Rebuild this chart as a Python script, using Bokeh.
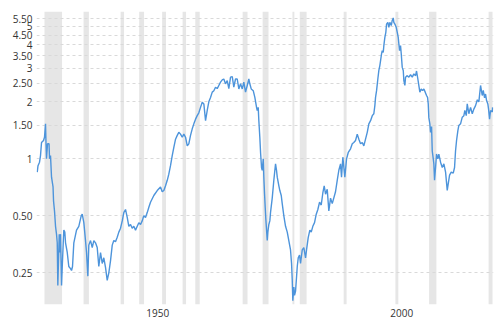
from bokeh.plotting import figure
from bokeh.models import Range1d, FixedTicker, BoxAnnotation
from bokeh.embed import file_html
from bokeh.resources import INLINE

# S&P 500 to gold ratio
years = [1927.81, 1927.97, 1928.28, 1928.48, 1928.69, 1929.10, 1929.30, 1929.51, 1929.61, 1929.71,
         1929.92, 1930.23, 1930.33, 1930.53, 1930.74, 1931.05, 1931.15, 1931.35, 1931.56, 1931.76,
         1931.91, 1932.03, 1932.32, 1932.44, 1932.58, 1932.79, 1932.93, 1933.14, 1933.26, 1933.46,
         1933.61, 1933.96, 1934.28, 1934.63, 1934.84, 1935.04, 1935.31, 1935.86, 1936.33, 1936.82,
         1937.03, 1937.36, 1937.70, 1937.91, 1938.18, 1938.38, 1938.73, 1939.08, 1939.41, 1939.75,
         1940.10, 1940.43, 1940.78, 1941.13, 1941.45, 1941.80, 1942.15, 1942.48, 1942.83, 1943.18,
         1943.50, 1943.85, 1944.20, 1944.53, 1944.88, 1945.23, 1945.55, 1945.90, 1946.25, 1946.58,
         1946.93, 1947.27, 1947.60, 1947.95, 1948.30, 1948.63, 1948.98, 1949.32, 1949.65, 1950.00,
         1950.35, 1950.68, 1951.02, 1951.70, 1952.40, 1953.07, 1953.42, 1953.75, 1954.10, 1954.45,
         1954.77, 1955.12, 1955.47, 1955.80, 1956.15, 1956.50, 1956.82, 1957.17, 1957.52, 1957.85,
         1958.20, 1958.55, 1958.87, 1959.22, 1959.57, 1959.90, 1960.25, 1960.59, 1960.92, 1961.27,
         1961.62, 1961.95, 1962.30, 1962.64, 1962.97, 1963.32, 1963.67, 1964.00, 1964.34, 1964.69,
         1965.02, 1965.37, 1965.72, 1966.04, 1966.39, 1966.74, 1967.07, 1967.42, 1967.77, 1968.09,
         1968.44, 1968.79, 1969.12, 1969.47, 1969.82, 1970.14, 1970.49, 1970.84, 1971.17, 1971.37,
         1971.66, 1972.07, 1972.40, 1972.75, 1972.89, 1973.09, 1973.22, 1973.42, 1973.57, 1973.77,
         1973.91, 1974.12, 1974.24, 1974.39, 1974.53, 1974.65, 1974.80, 1974.94, 1975.06, 1975.27,
         1975.47, 1975.61, 1975.96, 1976.29, 1976.50, 1976.64, 1976.84, 1976.99, 1977.32, 1977.52,
         1977.81, 1978.01, 1978.34, 1978.69, 1979.04, 1979.36, 1979.71, 1979.92, 1980.06, 1980.18,
         1980.39, 1980.53, 1980.74, 1980.94, 1981.09, 1981.29, 1981.56, 1981.76, 1982.11, 1982.44,
         1982.79, 1982.99, 1983.34, 1983.67, 1983.95, 1984.28, 1984.63, 1984.98, 1985.31, 1985.66,
         1986.00, 1986.33, 1986.61, 1986.89, 1987.23, 1987.56, 1987.91, 1988.26, 1988.93, 1989.28,
         1989.61, 1989.96, 1990.16, 1990.43, 1990.64, 1990.84, 1991.19, 1991.54, 1992.01, 1992.36,
         1992.68, 1993.03, 1993.38, 1993.71, 1994.06, 1994.41, 1994.73, 1995.08, 1995.43, 1995.76,
         1996.11, 1996.46, 1996.78, 1996.99, 1997.13, 1997.34, 1997.60, 1997.81, 1998.01, 1998.16,
         1998.36, 1998.50, 1998.71, 1998.83, 1999.04, 1999.24, 1999.39, 1999.65, 1999.86, 2000.06,
         2000.35, 2000.55, 2000.76, 2000.88, 2001.09, 2001.37, 2001.58, 2001.78, 2001.91, 2002.05,
         2002.25, 2002.40, 2002.60, 2002.81, 2002.93, 2003.14, 2003.28, 2003.63, 2003.96, 2004.30,
         2004.65, 2004.98, 2005.33, 2005.53, 2005.80, 2006.00, 2006.21, 2006.50, 2006.76, 2007.03,
         2007.31, 2007.58, 2007.79, 2007.93, 2008.05, 2008.26, 2008.40, 2008.61, 2008.75, 2008.96,
         2009.08, 2009.22, 2009.43, 2009.63, 2009.90, 2010.10, 2010.45, 2010.80, 2011.13, 2011.48,
         2011.82, 2012.03, 2012.30, 2012.64, 2013.05, 2013.32, 2013.52, 2013.73, 2014.00, 2014.20,
         2014.55, 2014.90, 2015.23, 2015.43, 2015.72, 2015.92, 2016.25, 2016.60, 2016.95, 2017.27,
         2017.62, 2017.99, 2018.30, 2018.65, 2018.99, 2019.20, 2019.47, 2019.67, 2019.88, 2020.14,
         2020.29, 2020.49, 2020.70, 2021.05, 2021.11]

ratio = [0.85, 0.92, 0.96, 1.04, 1.22, 1.25, 1.30, 1.53, 1.20, 1.00,
         1.20, 1.20, 1.00, 1.04, 0.80, 0.71, 0.60, 0.53, 0.44, 0.40,
         0.36, 0.214, 0.40, 0.32, 0.40, 0.214, 0.267, 0.36, 0.42, 0.41,
         0.36, 0.32, 0.27, 0.263, 0.257, 0.27, 0.36, 0.42, 0.44, 0.50,
         0.51, 0.46, 0.37, 0.32, 0.24, 0.35, 0.37, 0.34, 0.37, 0.36,
         0.34, 0.27, 0.32, 0.28, 0.30, 0.267, 0.228, 0.25, 0.29, 0.35,
         0.37, 0.365, 0.385, 0.41, 0.43, 0.47, 0.52, 0.54, 0.49, 0.44,
         0.45, 0.43, 0.44, 0.42, 0.44, 0.46, 0.45, 0.47, 0.50, 0.49,
         0.52, 0.555, 0.59, 0.64, 0.68, 0.71, 0.67, 0.68, 0.72, 0.77,
         0.83, 0.92, 1.04, 1.15, 1.27, 1.33, 1.38, 1.35, 1.30, 1.35,
         1.30, 1.17, 1.20, 1.33, 1.44, 1.53, 1.62, 1.69, 1.75, 1.87,
         1.99, 1.95, 1.59, 1.80, 2.00, 2.11, 2.25, 2.29, 2.39, 2.35,
         2.44, 2.54, 2.61, 2.64, 2.49, 2.59, 2.35, 2.70, 2.72, 2.39,
         2.64, 2.64, 2.34, 2.49, 2.34, 2.54, 2.25, 2.44, 2.64, 2.49,
         2.34, 2.29, 2.11, 1.87, 1.80, 1.87, 1.59, 1.30, 1.08, 0.90,
         0.87, 1.00, 0.80, 0.65, 0.55, 0.48, 0.42, 0.37, 0.41, 0.45,
         0.47, 0.52, 0.62, 0.77, 0.87, 0.94, 0.87, 0.80, 0.72, 0.68,
         0.64, 0.58, 0.50, 0.44, 0.41, 0.37, 0.33, 0.28, 0.23, 0.178,
         0.21, 0.19, 0.20, 0.237, 0.27, 0.30, 0.31, 0.28, 0.33, 0.34,
         0.30, 0.33, 0.385, 0.42, 0.41, 0.44, 0.46, 0.51, 0.54, 0.59,
         0.57, 0.66, 0.72, 0.65, 0.69, 0.53, 0.62, 0.58, 0.67, 0.77,
         0.87, 0.94, 0.80, 1.02, 0.90, 0.80, 1.00, 1.08, 1.13, 1.20,
         1.22, 1.25, 1.35, 1.27, 1.20, 1.22, 1.17, 1.27, 1.38, 1.53,
         1.59, 1.69, 1.73, 1.91, 2.11, 2.29, 2.64, 2.93, 3.11, 3.30,
         3.58, 3.73, 3.65, 3.96, 4.38, 4.66, 5.15, 5.26, 4.95, 5.26,
         5.06, 5.38, 5.55, 5.26, 5.15, 4.95, 4.66, 4.38, 4.04, 3.73,
         3.96, 3.58, 3.04, 2.93, 2.59, 2.44, 2.70, 2.75, 2.70, 2.78,
         2.70, 2.81, 2.75, 2.91, 2.64, 2.44, 2.25, 2.34, 2.29, 2.34,
         2.25, 2.16, 2.11, 1.95, 1.65, 1.53, 1.38, 1.48, 1.10, 1.00,
         0.94, 0.77, 0.90, 1.06, 1.00, 1.06, 0.96, 0.90, 0.94, 0.85,
         0.68, 0.74, 0.82, 0.85, 0.84, 0.90, 1.10, 1.25, 1.41, 1.50,
         1.53, 1.66, 1.69, 1.80, 1.69, 1.95, 1.73, 1.87, 1.73, 1.83,
         1.91, 2.05, 2.00, 2.44, 2.16, 2.30, 2.10, 2.20, 2.03, 1.95,
         1.83, 1.62, 1.80, 1.77, 1.87]

# Recession periods (shaded)
rec_start = [1929.3, 1937.3, 1944.9, 1948.7, 1953.4, 1957.6, 1960.2, 1969.9, 1974.0,
             1980.1, 1981.6, 1990.6, 2001.2, 2008.1, 2020.3]
rec_end = [1932.9, 1938.4, 1945.6, 1949.7, 1954.2, 1958.3, 1961.1, 1970.9, 1975.2,
           1980.5, 1983.0, 1991.2, 2001.8, 2009.6, 2021.1]

y_ticks = [0.25, 0.5, 1, 1.5, 2, 2.5, 3, 3.5, 4, 4.5, 5, 5.5]
y_tick_labels = ["0.25", "0.50", "1", "1.50", "2", "2.50", "3", "3.50", "4", "4.50", "5", "5.50"]
x_tick_years = [1950, 2000]
x_tick_labels = ["1950", "2000"]

X_MIN, X_MAX = 1927.66, 2021.3
Y_MIN, Y_MAX = 0.170, 6.0
LABEL_SHIFT = 2.5  # reference places year labels right of the year boundary

p = figure(width=500, height=325, y_axis_type="log",
           x_range=Range1d(X_MIN, X_MAX), y_range=Range1d(Y_MIN, Y_MAX),
           output_backend="svg", toolbar_location=None,
           min_border_left=36, min_border_right=7, min_border_top=11, min_border_bottom=21)
p.outline_line_color = None
p.background_fill_color = "white"

# recession bands beneath the grid
p.quad(left=rec_start, right=rec_end,
       bottom=[Y_MIN] * len(rec_start), top=[Y_MAX] * len(rec_start),
       fill_color="#e6e6e6", line_color=None, level="image")

p.line(years, ratio, line_color="#4d94db", line_width=1.4)

# navigator strip under the axis
p.add_layout(BoxAnnotation(left=X_MIN, right=X_MAX, left_units="data", right_units="data",
                           top=322, bottom=325, top_units="canvas", bottom_units="canvas",
                           fill_color="#ececec", fill_alpha=1, line_color=None, level="overlay",
                           propagate_hover=False))

yt = FixedTicker(ticks=y_ticks)
p.yaxis.ticker = yt
p.ygrid.ticker = yt
p.yaxis.major_label_overrides = {t: l for t, l in zip(y_ticks, y_tick_labels)}
p.ygrid.grid_line_color = "#d9d9d9"
p.ygrid.grid_line_dash = "3 3"
p.ygrid.grid_line_width = 1
p.xgrid.visible = False

xt_pos = [y + LABEL_SHIFT for y in x_tick_years]
p.xaxis.ticker = FixedTicker(ticks=xt_pos)
p.xaxis.major_label_overrides = {t: l for t, l in zip(xt_pos, x_tick_labels)}

for ax in (p.xaxis, p.yaxis):
    ax.axis_line_color = None
    ax.major_tick_line_color = None
    ax.minor_tick_line_color = None
    ax.major_tick_out = 0
    ax.major_tick_in = 0
    ax.minor_tick_out = 0
    ax.minor_tick_in = 0
    ax.major_label_text_font = "Open Sans"
    ax.major_label_text_font_size = "10px"
    ax.major_label_text_color = "#333333"
p.yaxis.major_label_standoff = 4
p.xaxis.major_label_standoff = 4

open("out.html", "w").write(file_html(p, INLINE))
